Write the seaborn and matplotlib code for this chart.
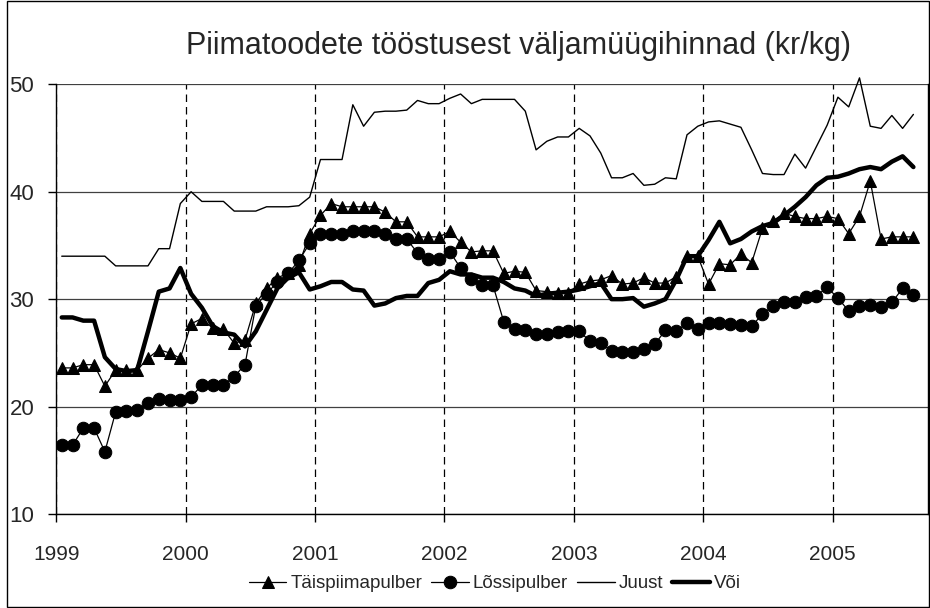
import numpy as np
import pandas as pd
import matplotlib
matplotlib.use('Agg')
import matplotlib.pyplot as plt
from matplotlib.patches import Rectangle
import seaborn as sns

# monthly prices, Jan 1999 .. Aug 2005 (kr/kg)
aastad = ['1999', '2000', '2001', '2002', '2003', '2004', '2005']

taispiimapulber = [23.6, 23.6, 23.9, 23.9, 21.9, 23.4, 23.4, 23.4, 24.5, 25.3, 25.0, 24.5,
                   27.7, 28.2, 27.3, 27.2, 25.9, 26.2, 29.6, 31.0, 32.0, 32.4, 33.2, 36.1,
                   37.8, 38.9, 38.6, 38.6, 38.6, 38.6, 38.1, 37.2, 37.2, 35.8, 35.8, 35.8,
                   36.3, 35.3, 34.4, 34.5, 34.5, 32.4, 32.6, 32.5, 30.8, 30.7, 30.6, 30.6,
                   31.4, 31.7, 31.8, 32.2, 31.4, 31.5, 32.0, 31.5, 31.5, 32.1, 34.0, 34.0,
                   31.4, 33.3, 33.2, 34.2, 33.4, 36.6, 37.3, 38.0, 37.7, 37.5, 37.5, 37.7,
                   37.5, 36.1, 37.7, 41.0, 35.6, 35.8, 35.8, 35.8]

lossipulber = [16.4, 16.4, 18.0, 18.0, 15.8, 19.5, 19.6, 19.7, 20.3, 20.7, 20.6, 20.6,
               20.9, 22.0, 22.0, 22.0, 22.8, 23.9, 29.4, 30.5, 31.6, 32.4, 33.6, 35.2,
               36.1, 36.1, 36.1, 36.3, 36.3, 36.3, 36.1, 35.6, 35.6, 34.3, 33.7, 33.7,
               34.4, 32.9, 31.9, 31.3, 31.3, 27.9, 27.2, 27.1, 26.8, 26.8, 26.9, 27.0,
               27.0, 26.1, 25.9, 25.2, 25.1, 25.1, 25.4, 25.8, 27.1, 27.0, 27.8, 27.2,
               27.8, 27.8, 27.7, 27.6, 27.5, 28.6, 29.4, 29.7, 29.7, 30.2, 30.3, 31.1,
               30.1, 28.9, 29.4, 29.5, 29.3, 29.7, 31.0, 30.4]

juust = [34.0, 34.0, 34.0, 34.0, 34.0, 33.1, 33.1, 33.1, 33.1, 34.7, 34.7, 38.9,
         40.0, 39.1, 39.1, 39.1, 38.2, 38.2, 38.2, 38.6, 38.6, 38.6, 38.7, 39.5,
         43.0, 43.0, 43.0, 48.1, 46.1, 47.4, 47.5, 47.5, 47.6, 48.5, 48.2, 48.2,
         48.7, 49.1, 48.2, 48.6, 48.6, 48.6, 48.6, 47.5, 43.9, 44.7, 45.1, 45.1,
         45.9, 45.2, 43.6, 41.3, 41.3, 41.7, 40.6, 40.7, 41.3, 41.2, 45.3, 46.1,
         46.5, 46.6, 46.3, 46.0, 43.9, 41.7, 41.6, 41.6, 43.5, 42.2, 44.2, 46.2,
         48.8, 47.9, 50.6, 46.1, 45.9, 47.1, 45.9, 47.2]

voi = [28.3, 28.3, 28.0, 28.0, 24.6, 23.5, 23.3, 23.4, 27.0, 30.7, 31.0, 32.9,
       30.5, 29.2, 27.5, 26.9, 26.7, 25.6, 27.0, 29.0, 31.0, 32.0, 32.5, 30.9,
       31.2, 31.6, 31.6, 30.9, 30.8, 29.4, 29.6, 30.1, 30.3, 30.3, 31.5, 31.8,
       32.6, 32.3, 32.3, 32.0, 32.0, 31.6, 31.0, 30.8, 30.3, 30.5, 30.6, 30.7,
       30.9, 31.2, 31.5, 30.0, 30.0, 30.1, 29.3, 29.6, 30.0, 31.8, 34.0, 34.0,
       35.5, 37.2, 35.2, 35.6, 36.3, 36.8, 37.1, 37.8, 38.6, 39.5, 40.6, 41.3,
       41.4, 41.7, 42.1, 42.3, 42.1, 42.8, 43.3, 42.3]

kuu = np.arange(len(voi))

df = pd.DataFrame({'kuu': kuu, 'Täispiimapulber': taispiimapulber,
                   'Lõssipulber': lossipulber, 'Juust': juust, 'Või': voi})

sns.set_theme(style='white')
plt.rcParams['font.family'] = ['Liberation Sans', 'DejaVu Sans']

fig = plt.figure(figsize=(9.3, 6.08), dpi=100)
ax = fig.add_axes([0.0606, 0.1546, 0.9372, 0.7067])

sns.lineplot(data=df, x='kuu', y='Täispiimapulber', ax=ax, color='black', lw=0.9,
             marker='^', markersize=9, markeredgecolor='black', label='Täispiimapulber')
sns.lineplot(data=df, x='kuu', y='Lõssipulber', ax=ax, color='black', lw=0.9,
             marker='o', markersize=9, markeredgecolor='black', label='Lõssipulber')
sns.lineplot(data=df, x='kuu', y='Juust', ax=ax, color='black', lw=1.0,
             label='Juust', clip_on=False)
sns.lineplot(data=df, x='kuu', y='Või', ax=ax, color='black', lw=3.2,
             label='Või')

handles, labels = ax.get_legend_handles_labels()
if ax.get_legend() is not None:
    ax.get_legend().remove()

ax.set_xlim(-0.5, 80.35)
ax.set_ylim(10, 50)
ax.set_xlabel('')
ax.set_ylabel('')

# year labels sit on the year boundaries (dashed lines)
ax.set_xticks([12 * k - 0.5 for k in range(len(aastad))])
ax.set_xticklabels(aastad)
ax.tick_params(axis='x', direction='out', length=6, width=1, color='black', bottom=True,
               labelsize=15, pad=16)

ax.set_yticks([10, 20, 30, 40, 50])
ax.tick_params(axis='y', direction='out', length=6, width=1, color='black', left=True,
               labelsize=16, pad=10)

ax.set_axisbelow(True)
ax.grid(axis='y', color='#404040', lw=0.9)
ax.grid(axis='x', color='black', lw=0.9, linestyle=(0, (6, 4)))

for s in ['left', 'bottom', 'right']:
    ax.spines[s].set_color('black')
    ax.spines[s].set_linewidth(1.0)
ax.spines['top'].set_visible(False)

fig.text(0.558, 0.925, 'Piimatoodete tööstusest väljamüügihinnad (kr/kg)',
         ha='center', va='center', fontsize=22)

fig.legend(handles, labels, loc='center', bbox_to_anchor=(0.532, 0.04), ncol=4,
           frameon=False, fontsize=13.5, handlelength=2.0, columnspacing=0.5,
           handletextpad=0.2)

fig.patches.append(Rectangle((0.008, 0.002), 0.9905, 0.996, transform=fig.transFigure,
                             fill=False, edgecolor='black', lw=1.0))

fig.savefig('out.png', dpi=100)
